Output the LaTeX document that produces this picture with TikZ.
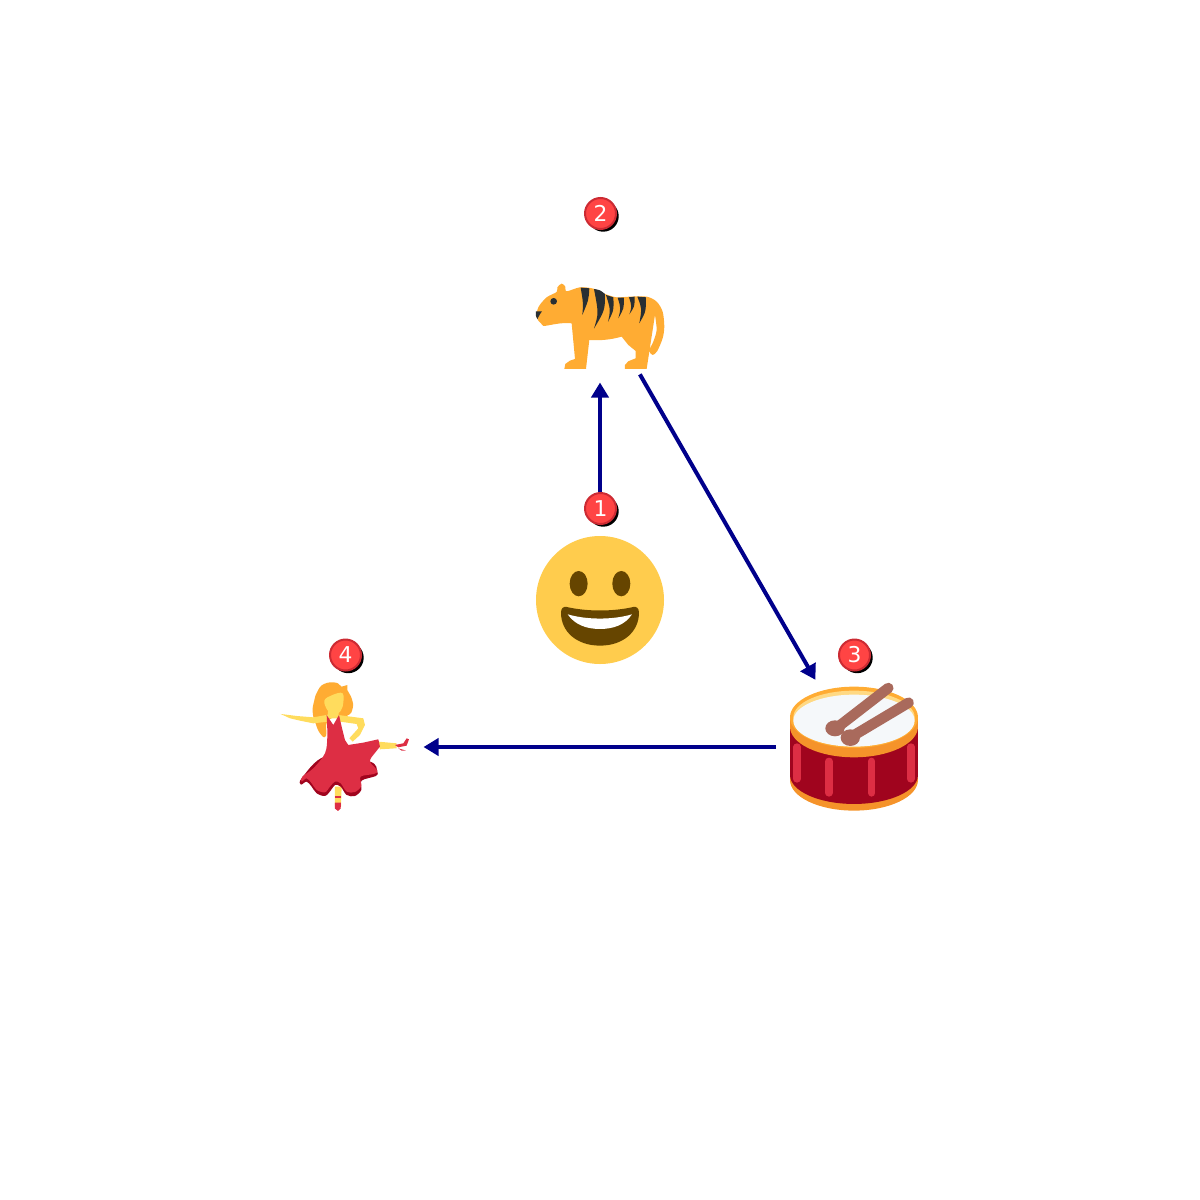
\documentclass[tikz,border=0pt]{standalone}
\usepackage{fontspec}
\usepackage{xcolor}
\usepackage{tikz}
\usetikzlibrary{arrows.meta,shadows}
\newfontfamily\badgefont{DejaVu Sans}
\definecolor{mArrow}{HTML}{00008B}
\definecolor{mBadge}{HTML}{FF4444}
\definecolor{mBadgeEdge}{HTML}{CC2B33}
\definecolor{mAmber}{HTML}{FFAC33}
\definecolor{mSlate}{HTML}{292F33}
\definecolor{mFace}{HTML}{FFCC4D}
\definecolor{mMouth}{HTML}{664500}
\definecolor{mOrange}{HTML}{F5932A}
\definecolor{mWine}{HTML}{A0041E}
\definecolor{mRed}{HTML}{DD2E44}
\definecolor{mPale}{HTML}{FFD983}
\definecolor{mSkin}{HTML}{FFDC5D}
\definecolor{mSkinHead}{HTML}{F5F8FA}
\definecolor{mStick}{HTML}{A96A5C}

\begin{document}
\begin{tikzpicture}[x=0.1mm,y=-0.1mm,
  hub/.style={circle, minimum size=16mm, inner sep=0pt, outer sep=0pt},
  badge/.style={circle, draw=mBadgeEdge, line width=0.2mm, fill=mBadge, minimum size=3.1mm, inner sep=0pt, text=white,
    font=\badgefont\fontsize{6.2}{7}\selectfont, drop shadow={shadow xshift=0.27mm, shadow yshift=-0.27mm, fill=black, opacity=1}},
  link/.style={draw=mArrow, line width=0.4mm, shorten >=-0.25mm, -{Triangle[length=1.5mm,width=1.7mm]}},
  zoomed/.style={x=0.03333mm,y=-0.03333mm},
  stave/.style={draw=mRed, line width=0.73mm, line cap=round},
  stick/.style={draw=mStick, line width=1.05mm, line cap=round}]
\useasboundingbox (0,0) rectangle (1200,1200);
\node[hub] (face) at (600,600) {};
\node[hub] (tiger) at (600,305) {};
\node[hub] (drum) at (854,747) {};
\node[hub] (dancer) at (346,747) {};

% face
\fill[mFace] (face) circle [radius=64];
\begin{scope}[shift={(520,480)},zoomed]
  \fill[mMouth] (176,311) ellipse [x radius=27,y radius=38];
  \fill[mMouth] (304,311) ellipse [x radius=27,y radius=38];
  \fill[mMouth] (123,398) .. controls (123,385) and (130,379) .. (140,381) .. controls (200,395) and (280,395) .. (340,381)
    .. controls (350,379) and (357,385) .. (357,398) .. controls (357,455) and (310,497) .. (240,497) .. controls (170,497) and (123,455) .. (123,398);
  \fill[white] (143,403) .. controls (200,420) and (280,420) .. (336,403) .. controls (315,435) and (280,447) .. (240,447) .. controls (200,447) and (165,435) .. (143,403);
\end{scope}

% tiger
\begin{scope}[shift={(520,190)},zoomed]
  \fill[mAmber] plot[smooth,tension=.5] coordinates {(48,378) (56,350) (80,322) (110,306) (112,292) (125,281) (136,290) (140,304) (180,292) (220,296) (255,312) (290,322) (330,320) (380,320) (410,335) (428,365) (433,410) (428,445) (412,483) (398,495) (388,482) (400,455) (410,420) (405,375)}
    -- (380,537) -- (315,537) -- (315,525) -- (325,514) -- (347,505) -- (347,483) -- (325,465) -- (305,440)
    .. controls (270,450) and (240,452) .. (208,450) -- (198,537) -- (133,537) -- (136,522) -- (150,512) -- (165,507) -- (155,400)
    .. controls (120,396) and (85,408) .. (70,408) -- (55,392) -- cycle;
  \fill[mSlate] (182,293) .. controls (195,292) .. (208,295) .. controls (206,330) .. (187,375) .. controls (190,340) .. (182,293);
  \fill[mSlate] (222,297) .. controls (240,300) .. (255,312) .. controls (255,360) .. (222,416) .. controls (236,370) .. (222,297);
  \fill[mSlate] (258,315) -- (280,322) .. controls (282,360) .. (264,396) .. controls (272,360) .. (258,315);
  \fill[mSlate] (293,323) -- (312,323) .. controls (312,355) .. (295,385) .. controls (303,355) .. (293,323);
  \fill[mSlate] (327,322) -- (344,320) .. controls (344,350) .. (328,373) .. controls (336,350) .. (327,322);
  \fill[mSlate] (352,320) -- (378,322) .. controls (378,365) .. (358,400) .. controls (366,355) .. (352,320);
  \fill[mSlate] (101,334) circle [radius=10];
  \fill[mSlate] (48,364) -- (66,364) .. controls (60,372) .. (52,388) .. controls (47,378) .. (48,364);
\end{scope}

% drum
\begin{scope}[shift={(770,630)},zoomed]
  \fill[mOrange] (252,450) ellipse [x radius=192,y radius=92];
  \fill[mWine] (60,280) rectangle (444,435);
  \fill[mWine] (252,435) ellipse [x radius=192,y radius=87];
  \fill[mOrange] (252,290) ellipse [x radius=192,y radius=92];
  \fill[mOrange] (60,262) rectangle (444,290);
  \fill[mAmber] (252,262) ellipse [x radius=192,y radius=92];
  \fill[mPale] (252,262) ellipse [x radius=182,y radius=80];
  \fill[mSkinHead] (252,272) ellipse [x radius=182,y radius=78];
  \draw[stave] (81,351) -- (81,447);
  \draw[stave] (177,394) -- (177,489);
  \draw[stave] (305,394) -- (305,489);
  \draw[stave] (423,351) -- (423,447);
  \draw[stick] (205,290) -- (355,174);
  \draw[stick] (245,320) -- (416,218);
  \fill[mStick] (195,295) ellipse [x radius=29,y radius=24];
  \fill[mStick] (241,323) ellipse [x radius=29,y radius=25];
\end{scope}

% dancer
\begin{scope}[shift={(270,630)},zoomed]
  \fill[mAmber] plot[smooth cycle,tension=.8] coordinates {(132,215) (142,185) (162,162) (198,158) (215,170) (232,165) (232,180) (245,205) (248,235) (230,258) (175,270) (168,318) (150,310) (135,275) (128,245)};
  \fill[mSkin] (32,252) -- (80,258) -- (130,262) -- (175,254) -- (175,275) -- (130,280) -- (90,272) -- (60,265) -- cycle;
  \fill[mSkin] (205,255) -- (280,265) -- (285,285) -- (270,315) -- (248,335) -- (238,325) -- (265,295) -- (260,282) -- (210,275) -- cycle;
  \fill[mSkin] (325,335) -- (380,340) -- (380,355) -- (330,358) -- cycle;
  \fill[mSkin] (195,470) -- (215,470) -- (213,530) -- (205,540) -- (195,530) -- cycle;
  \fill[mRed] (195,497) rectangle (213,505);
  \fill[mRed] (195,518) -- (213,518) -- (212,536) -- (204,543) -- (195,536) -- cycle;
  \fill[mRed] (375,345) -- (400,340) -- (410,325) -- (417,328) -- (410,347) -- (385,352) -- cycle;
  \fill[mRed] (385,355) -- (408,362) -- (395,362) -- cycle;
  \fill[mSkin] (175,235) -- (205,235) -- (207,265) -- (172,265) -- cycle;
  \fill[mSkin] plot[smooth cycle,tension=.6] coordinates {(163,212) (185,196) (218,190) (218,230) (205,250) (190,256) (172,240)};
  \fill[mWine] plot[smooth cycle,tension=.55] coordinates {(300,395) (322,425) (318,438) (275,452) (274,480) (255,498) (230,495) (212,470) (195,465) (182,482) (165,498) (140,490) (125,470) (110,455) (93,464) (95,445) (165,380)};
  \fill[mRed] (170,255) -- (190,285) -- (207,255) -- (215,290) -- (225,330) -- (235,345) -- (280,338) -- (325,328) -- (330,350) -- (310,375)
    -- plot[smooth,tension=.55] coordinates {(310,375) (300,395) (322,422) (312,432) (272,440) (274,468) (255,486) (230,485) (212,460) (195,455) (180,470) (165,487) (140,480) (125,460) (110,445) (95,455) (97,440) (130,415) (165,370) (172,320) (170,255)} -- cycle;
\end{scope}

\draw[link] (face) -- (tiger);
\draw[link] (tiger) -- (drum);
\draw[link, shorten <=-0.2mm] (drum) -- (dancer);

\node[badge] (n1) at (600.5,508.5) {1};
\node[badge] (n2) at (600.5,213.5) {2};
\node[badge] (n3) at (854.5,655) {3};
\node[badge] (n4) at (345.5,655) {4};
\end{tikzpicture}
\end{document}
